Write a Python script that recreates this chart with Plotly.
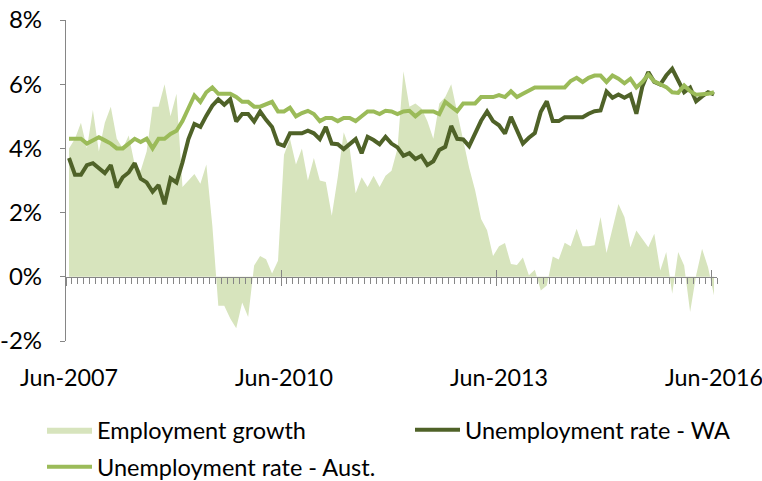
import pandas as pd
import plotly.graph_objects as go

# Monthly data, Jun-2007 .. Jun-2016 (109 months)
months = [d.strftime("%b-%Y") for d in pd.date_range("2007-06-01", "2016-06-01", freq="MS")]

employment_growth = [
    4.0, 4.3, 4.8, 4.0, 5.2, 3.9, 4.8, 5.3, 4.3, 4.0,
    4.4, 3.5, 3.3, 3.9, 5.3, 5.3, 6.0, 5.0, 5.7, 2.8,
    3.0, 3.2, 2.9, 3.5, 1.6, -0.9, -0.9, -1.3, -1.6, -0.8,
    -1.25, 0.35, 0.65, 0.55, 0.1, 0.5, 3.8, 4.3, 3.5, 4.0,
    3.0, 3.7, 3.0, 2.95, 1.9, 3.1, 4.5, 4.0, 2.6, 3.1,
    2.8, 3.15, 2.8, 3.15, 3.3, 4.0, 6.4, 5.3, 5.4, 5.25,
    4.85, 4.3, 5.4, 5.6, 6.0, 5.1, 4.3, 3.4, 2.7, 1.8,
    1.45, 0.65, 0.95, 1.05, 0.4, 0.37, 0.6, 0.05, 0.22, -0.43,
    -0.27, 0.63, 0.54, 1.06, 0.95, 1.5, 0.95, 0.95, 0.98, 1.86,
    0.74, 1.55, 2.27, 1.86, 0.92, 1.44, 1.18, 0.92, 1.34, 0.2,
    0.77, -0.53, 0.77, 0.35, -1.1, 0.04, 0.87, 0.3, -0.58,
]

unemployment_wa = [
    3.7, 3.18, 3.18, 3.48, 3.54, 3.37, 3.23, 3.48, 2.78, 3.1,
    3.25, 3.54, 3.06, 2.94, 2.65, 2.86, 2.26, 3.07, 2.94, 3.56,
    4.29, 4.76, 4.67, 5.02, 5.33, 5.53, 5.36, 5.53, 4.84, 5.07,
    5.07, 4.84, 5.15, 4.89, 4.67, 4.15, 4.08, 4.47, 4.47, 4.47,
    4.55, 4.47, 4.29, 4.67, 4.15, 4.13, 3.98, 4.15, 4.29, 3.85,
    4.36, 4.26, 4.13, 4.36, 4.15, 4.03, 3.77, 3.85, 3.67, 3.77,
    3.48, 3.6, 3.95, 4.05, 4.7, 4.3, 4.28, 4.07, 4.5, 4.86,
    5.15, 4.85, 4.72, 4.46, 4.98, 4.56, 4.15, 4.33, 4.48, 5.14,
    5.47, 4.85, 4.85, 4.97, 4.97, 4.97, 4.97, 5.08, 5.16, 5.18,
    5.77, 5.58, 5.68, 5.58, 5.68, 5.08, 5.93, 6.38, 6.07, 5.99,
    6.27, 6.48, 6.12, 5.75, 5.89, 5.47, 5.62, 5.75, 5.68,
]

unemployment_aust = [
    4.3, 4.3, 4.3, 4.15, 4.25, 4.35, 4.25, 4.15, 4.0, 4.0,
    4.15, 4.3, 4.2, 4.3, 4.0, 4.3, 4.3, 4.45, 4.55, 4.85,
    5.25, 5.65, 5.45, 5.75, 5.9, 5.7, 5.7, 5.7, 5.6, 5.45,
    5.45, 5.3, 5.3, 5.38, 5.45, 5.15, 5.15, 5.27, 5.0, 5.1,
    5.17, 5.07, 4.85, 4.95, 4.95, 4.85, 4.95, 4.95, 4.85, 5.0,
    5.15, 5.15, 5.07, 5.17, 5.15, 5.07, 5.15, 5.17, 5.0, 5.15,
    5.15, 5.15, 5.07, 5.45, 5.3, 5.16, 5.4, 5.4, 5.4, 5.6,
    5.6, 5.6, 5.66, 5.6, 5.78, 5.6, 5.7, 5.8, 5.9, 5.9,
    5.9, 5.9, 5.9, 5.9, 6.1, 6.2, 6.07, 6.2, 6.27, 6.27,
    6.07, 6.27, 6.17, 6.03, 6.17, 5.9, 6.07, 6.3, 6.09, 6.01,
    5.91, 5.75, 5.73, 5.96, 5.78, 5.67, 5.67, 5.7, 5.75,
]

x_tick_labels = ["Jun-2007", "Jun-2010", "Jun-2013", "Jun-2016"]
y_ticks = [-2, 0, 2, 4, 6, 8]
y_tick_labels = ["-2%", "0%", "2%", "4%", "6%", "8%"]

FONT = "Lato"
AXIS_GRAY = "#868686"
W, H = 762, 481
n = len(months)
idx = list(range(n))
major_bounds = [months.index(m) - 0.5 for m in x_tick_labels]

fig = go.Figure()
fig.add_trace(go.Scatter(
    x=idx, y=employment_growth, name="Employment growth", mode="lines",
    line=dict(width=0, color="#D7E4BD"), fill="tozeroy", fillcolor="#D7E4BD",
    hovertext=months, legend="legend", xaxis="x", yaxis="y",
))
fig.add_trace(go.Scatter(
    x=idx, y=unemployment_wa, name="Unemployment rate - WA", mode="lines",
    line=dict(width=4, color="#4F6228"), hovertext=months, legend="legend2",
    xaxis="x2", yaxis="y",
))
fig.add_trace(go.Scatter(
    x=idx, y=unemployment_aust, name="Unemployment rate - Aust.", mode="lines",
    line=dict(width=4, color="#9BBB59"), hovertext=months, legend="legend3",
    xaxis="x3", yaxis="y",
))

xr = [-0.5, n - 0.5]
zero_pos = (0 - y_ticks[0]) / (y_ticks[-1] - y_ticks[0])


def legend_at(x_px, y_px):
    return dict(
        orientation="h", xref="container", yref="container",
        x=x_px / W, xanchor="left", y=1 - y_px / H, yanchor="middle",
        itemwidth=45, font=dict(family=FONT, size=23.5), bgcolor="rgba(0,0,0,0)",
    )


fig.update_layout(
    width=W, height=H,
    margin=dict(l=66, r=45, t=20, b=140),
    paper_bgcolor="white", plot_bgcolor="white",
    font=dict(family=FONT, size=24, color="#000000"),
    xaxis=dict(
        range=xr, showgrid=False, zeroline=False, showline=False, automargin=False,
        tickmode="array", tickvals=[months.index(m) for m in x_tick_labels],
        ticktext=x_tick_labels, ticks="", ticklabelstandoff=21,
        ticklabeloverflow="allow",
        tickfont=dict(family=FONT, size=23.3),
    ),
    xaxis2=dict(
        range=xr, overlaying="x", anchor="free", position=zero_pos, automargin=False,
        showgrid=False, zeroline=False, showline=True, linecolor=AXIS_GRAY, linewidth=1.3,
        tickmode="array", tickvals=major_bounds, ticks="outside", ticklen=8,
        tickcolor=AXIS_GRAY, tickwidth=1.3, showticklabels=False,
        minor=dict(ticks="outside", ticklen=6, tickcolor=AXIS_GRAY, tickwidth=1.3,
                   tickmode="linear", tick0=-0.5, dtick=1),
    ),
    xaxis3=dict(
        range=xr, overlaying="x", anchor="free", position=zero_pos, automargin=False,
        showgrid=False, zeroline=False, showline=False,
        tickmode="array", tickvals=major_bounds, ticks="inside", ticklen=7,
        tickcolor=AXIS_GRAY, tickwidth=1.3, showticklabels=False,
    ),
    yaxis=dict(
        range=[y_ticks[0], y_ticks[-1]], showgrid=False, zeroline=False, automargin=False,
        showline=True, linecolor=AXIS_GRAY, linewidth=1.3,
        tickmode="array", tickvals=y_ticks, ticktext=y_tick_labels,
        ticks="outside", ticklen=5, tickcolor=AXIS_GRAY, tickwidth=1.3,
        ticklabelstandoff=13, tickfont=dict(family=FONT, size=24),
    ),
    legend=legend_at(42, 430),
    legend2=legend_at(410, 430),
    legend3=legend_at(42, 467),
    showlegend=True,
)

fig.write_html(
    "out.html",
    config={"displayModeBar": False},
    post_script="document.body.style.margin='0';",
)
